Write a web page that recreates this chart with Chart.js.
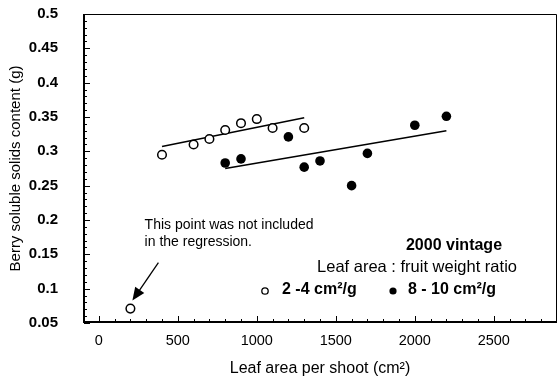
<!DOCTYPE html>
<html>
<head>
<meta charset="utf-8">
<script src="https://cdn.jsdelivr.net/npm/chart.js@4"></script>
<style>
  html, body { margin: 0; padding: 0; background: #fff; }
  #wrap { width: 558px; height: 381px; }
</style>
</head>
<body>
<div id="wrap"><canvas id="chart"></canvas></div>
<script>
// 2-4 cm2/g (open circles)
const lowArea = [400, 600, 700, 800, 900, 1000, 1100, 1300, 200];
const lowSolids = [0.295, 0.310, 0.318, 0.331, 0.341, 0.347, 0.334, 0.334, 0.071];
// 8-10 cm2/g (filled circles)
const highArea = [800, 900, 1200, 1300, 1400, 1600, 1700, 2000, 2200];
const highSolids = [0.283, 0.289, 0.321, 0.277, 0.286, 0.250, 0.297, 0.338, 0.351];
// regression lines, end points
const lowFitArea = [400, 1300];
const lowFitSolids = [0.307, 0.349];
const highFitArea = [800, 2200];
const highFitSolids = [0.275, 0.330];

const xTicks = [0, 500, 1000, 1500, 2000, 2500];
const yTicks = [0.05, 0.1, 0.15, 0.2, 0.25, 0.3, 0.35, 0.4, 0.45, 0.5];
const yTickLabels = ['0.05', '0.1', '0.15', '0.2', '0.25', '0.3', '0.35', '0.4', '0.45', '0.5'];

const FONT = '"Liberation Sans", Arial, sans-serif';

const toPoints = (xs, ys) => xs.map((x, i) => ({ x: x, y: ys[i] }));

// frame, inward ticks, note, arrow and legend
const decorations = {
    id: 'decorations',
    afterDraw(chart) {
        const ctx = chart.ctx;
        const a = chart.chartArea;
        const xs = chart.scales.x;
        const ys = chart.scales.y;
        ctx.save();
        ctx.strokeStyle = '#000';

        // thin top / right
        ctx.lineWidth = 1;
        ctx.beginPath();
        ctx.moveTo(a.left, a.top + 0.5);
        ctx.lineTo(a.right - 0.5, a.top + 0.5);
        ctx.lineTo(a.right - 0.5, a.bottom);
        ctx.stroke();

        // heavy left / bottom
        ctx.lineWidth = 2;
        ctx.beginPath();
        ctx.moveTo(a.left + 1, a.top);
        ctx.lineTo(a.left + 1, a.bottom - 1);
        ctx.lineTo(a.right, a.bottom - 1);
        ctx.stroke();

        ctx.lineWidth = 1;
        ctx.beginPath();
        for (let v = 0; v <= 2800; v += 100) {
            const px = Math.round(xs.getPixelForValue(v)) + 0.5;
            const len = v % 500 === 0 ? 6 : 3;
            ctx.moveTo(px, a.bottom - 1);
            ctx.lineTo(px, a.bottom - 1 - len);
        }
        for (let k = 5; k <= 50; k++) {
            const py = Math.round(ys.getPixelForValue(k / 100)) + 0.5;
            const len = k % 5 === 0 ? 6 : 3;
            ctx.moveTo(a.left + 1, py);
            ctx.lineTo(a.left + 1 + len, py);
        }
        ctx.stroke();

        // note about the outlier
        ctx.fillStyle = '#000';
        ctx.font = '14px ' + FONT;
        ctx.textAlign = 'left';
        ctx.textBaseline = 'alphabetic';
        const nx = xs.getPixelForValue(290);
        const ny = ys.getPixelForValue(0.2);
        ctx.fillText('This point was not included', nx, ny + 9);
        ctx.fillText('in the regression.', nx, ny + 26);

        // arrow to the outlier
        const tipX = xs.getPixelForValue(lowArea[8]) + 2;
        const tipY = ys.getPixelForValue(lowSolids[8]) - 8;
        const tailX = tipX + 26;
        const tailY = tipY - 38;
        const ang = Math.atan2(tipY - tailY, tipX - tailX);
        ctx.lineWidth = 1.3;
        ctx.beginPath();
        ctx.moveTo(tailX, tailY);
        ctx.lineTo(tipX - 10 * Math.cos(ang), tipY - 10 * Math.sin(ang));
        ctx.stroke();
        ctx.beginPath();
        ctx.moveTo(tipX, tipY);
        ctx.lineTo(tipX - 13 * Math.cos(ang) + 5.5 * Math.sin(ang), tipY - 13 * Math.sin(ang) - 5.5 * Math.cos(ang));
        ctx.lineTo(tipX - 13 * Math.cos(ang) - 5.5 * Math.sin(ang), tipY - 13 * Math.sin(ang) + 5.5 * Math.cos(ang));
        ctx.closePath();
        ctx.fill();

        // legend block
        ctx.textAlign = 'center';
        ctx.textBaseline = 'middle';
        ctx.font = 'bold 16px ' + FONT;
        ctx.fillText('2000 vintage', 454, 246);
        ctx.font = '16.5px ' + FONT;
        ctx.fillText('Leaf area : fruit weight ratio', 417, 267);

        ctx.textAlign = 'left';
        ctx.font = 'bold 16px ' + FONT;
        ctx.fillText('2 -4 cm\u00B2/g', 282, 290);
        ctx.fillText('8 - 10 cm\u00B2/g', 408, 290);

        ctx.lineWidth = 1.3;
        ctx.beginPath();
        ctx.arc(265, 291, 3.2, 0, Math.PI * 2);
        ctx.stroke();
        ctx.beginPath();
        ctx.arc(393, 291, 3.6, 0, Math.PI * 2);
        ctx.fill();

        ctx.restore();
    }
};

const ctx = document.getElementById('chart').getContext('2d');

new Chart(ctx, {
    type: 'scatter',
    data: {
        datasets: [{
            label: '2 -4 cm²/g',
            data: toPoints(lowArea, lowSolids),
            pointStyle: 'circle',
            pointRadius: 4.3,
            pointBorderWidth: 1.5,
            borderColor: '#000',
            backgroundColor: '#fff',
        }, {
            label: '8 - 10 cm²/g',
            data: toPoints(highArea, highSolids),
            pointStyle: 'circle',
            pointRadius: 4.8,
            pointBorderWidth: 0,
            borderColor: '#000',
            backgroundColor: '#000',
        }, {
            type: 'line',
            label: 'fit low',
            data: toPoints(lowFitArea, lowFitSolids),
            borderColor: '#000',
            borderWidth: 1.5,
            pointRadius: 0,
            order: 5,
        }, {
            type: 'line',
            label: 'fit high',
            data: toPoints(highFitArea, highFitSolids),
            borderColor: '#000',
            borderWidth: 1.5,
            pointRadius: 0,
            order: 5,
        }],
    },
    options: {
        responsive: true,
        maintainAspectRatio: false,
        animation: false,
        layout: {
            autoPadding: false,
            padding: { top: 14, right: 1, left: 0, bottom: 0 }
        },
        plugins: {
            legend: { display: false },
            tooltip: { enabled: false },
        },
        scales: {
            x: {
                type: 'linear',
                min: -100,
                max: 2900,
                grid: { display: false },
                border: { display: false },
                afterBuildTicks: (scale) => {
                    scale.ticks = xTicks.map(v => ({ value: v }));
                },
                afterFit: (scale) => {
                    scale.height = 58;
                    scale.paddingLeft = 0;
                    scale.paddingRight = 0;
                },
                ticks: {
                    padding: 1,
                    maxRotation: 0,
                    color: '#000',
                    font: { family: FONT, size: 14.5 },
                    callback: (v) => String(v),
                },
                title: {
                    display: true,
                    text: 'Leaf area per shoot (cm²)',
                    color: '#000',
                    font: { family: FONT, size: 16 },
                    padding: { top: 0, bottom: 3 },
                },
            },
            y: {
                type: 'linear',
                min: 0.05,
                max: 0.5,
                grid: { display: false },
                border: { display: false },
                afterBuildTicks: (scale) => {
                    scale.ticks = yTicks.map(v => ({ value: v }));
                },
                afterFit: (scale) => {
                    scale.width = 83;
                    scale.paddingTop = 0;
                    scale.paddingBottom = 0;
                },
                ticks: {
                    padding: 17,
                    color: '#000',
                    font: { family: FONT, size: 15, weight: 'bold' },
                    callback: (v, i) => yTickLabels[i],
                },
                title: {
                    display: true,
                    text: 'Berry soluble solids content (g)',
                    color: '#000',
                    font: { family: FONT, size: 15 },
                    padding: { top: 7, bottom: 0 },
                },
            },
        },
    },
    plugins: [decorations],
});
</script>
</body>
</html>
